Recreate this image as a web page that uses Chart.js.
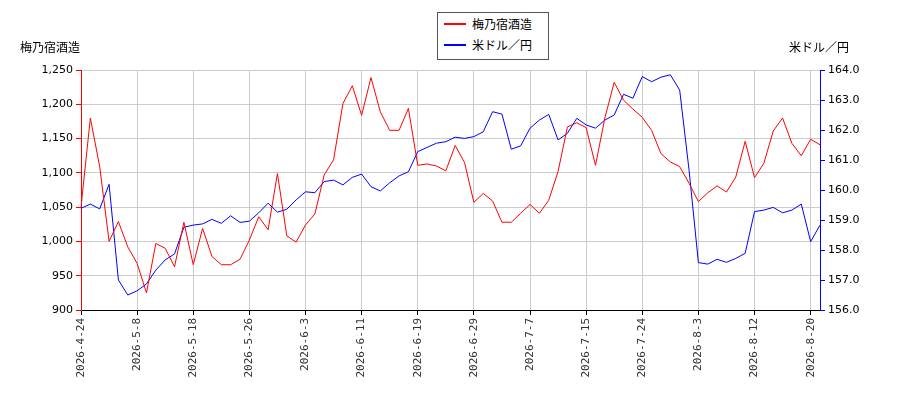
<!DOCTYPE html>
<html>
<head>
<meta charset="utf-8">
<script src="https://cdn.jsdelivr.net/npm/chart.js@4"></script>
<style>
  body { margin: 0; background: #fff; font-family: "Noto Sans CJK JP", sans-serif; }
  #wrap { position: relative; width: 900px; height: 400px; }
  .ttl { position: absolute; top: 38px; font-size: 12px; color: #000; }
  #legend { position: absolute; left: 437px; top: 12px; width: 110px; height: 46px; border: 1px solid #555; background: #fff; font-size: 12px; }
  #legend div { display: flex; align-items: center; height: 21px; padding-left: 6px; }
  #legend span { display: inline-block; width: 22px; height: 2px; margin-right: 6px; }
</style>
</head>
<body>
<div id="wrap">
  <canvas id="c" width="900" height="400"></canvas>
  <div class="ttl" style="left:20px">梅乃宿酒造</div>
  <div class="ttl" style="left:789px">米ドル／円</div>
  <div id="legend">
    <div><span style="background:#ff0000"></span>梅乃宿酒造</div>
    <div><span style="background:#0000ff"></span>米ドル／円</div>
  </div>
</div>
<script>
const dates = [
  '2026-4-24','2026-4-27','2026-4-28','2026-4-30','2026-5-1','2026-5-7','2026-5-8',
  '2026-5-11','2026-5-12','2026-5-13','2026-5-14','2026-5-15','2026-5-18',
  '2026-5-19','2026-5-20','2026-5-21','2026-5-22','2026-5-25','2026-5-26',
  '2026-5-27','2026-5-28','2026-5-29','2026-6-1','2026-6-2','2026-6-3',
  '2026-6-4','2026-6-5','2026-6-8','2026-6-9','2026-6-10','2026-6-11',
  '2026-6-12','2026-6-15','2026-6-16','2026-6-17','2026-6-18','2026-6-19',
  '2026-6-22','2026-6-23','2026-6-24','2026-6-25','2026-6-26','2026-6-29',
  '2026-6-30','2026-7-1','2026-7-2','2026-7-3','2026-7-6','2026-7-7',
  '2026-7-8','2026-7-9','2026-7-10','2026-7-13','2026-7-14','2026-7-15',
  '2026-7-16','2026-7-17','2026-7-21','2026-7-22','2026-7-23','2026-7-24',
  '2026-7-27','2026-7-28','2026-7-29','2026-7-30','2026-7-31','2026-8-3',
  '2026-8-4','2026-8-5','2026-8-6','2026-8-7','2026-8-10','2026-8-12',
  '2026-8-13','2026-8-14','2026-8-17','2026-8-18','2026-8-19','2026-8-20','2026-8-21'
];
const stockPrice = [
  1050,1180,1109,1000,1029,992,968,925,997,990,963,1028,966,1019,978,966,966,974,1002,1036,
  1017,1099,1008,999,1024,1040,1097,1119,1201,1227,1184,1239,1189,1162,1162,1194,1111,1113,1110,1103,
  1140,1115,1057,1070,1059,1028,1028,1041,1054,1041,1060,1102,1167,1173,1166,1111,1180,1232,1206,1193,
  1181,1162,1128,1116,1109,1085,1058,1071,1081,1072,1094,1146,1093,1114,1161,1180,1143,1125,1149,1141
];
const usdJpy = [
  159.39,159.53,159.37,160.19,157.0,156.5,156.64,156.87,157.33,157.67,157.87,158.76,158.83,158.87,159.02,158.89,159.14,158.92,158.96,159.24,
  159.56,159.26,159.36,159.67,159.94,159.91,160.28,160.33,160.17,160.42,160.53,160.11,159.97,160.24,160.47,160.61,161.28,161.42,161.56,161.61,
  161.76,161.72,161.78,161.94,162.61,162.53,161.36,161.47,162.06,162.33,162.52,161.67,161.89,162.39,162.17,162.06,162.33,162.5,163.19,163.06,
  163.78,163.61,163.76,163.84,163.33,160.67,157.58,157.53,157.69,157.59,157.72,157.89,159.28,159.33,159.42,159.24,159.33,159.53,158.28,158.83
];

new Chart(document.getElementById('c').getContext('2d'), {
  type: 'line',
  data: {
    labels: dates,
    datasets: [
      { label: '梅乃宿酒造', data: stockPrice, borderColor: '#ff0000', borderWidth: 1, pointRadius: 0, tension: 0, yAxisID: 'y' },
      { label: '米ドル／円', data: usdJpy, borderColor: '#0000ff', borderWidth: 1, pointRadius: 0, tension: 0, yAxisID: 'y1' }
    ]
  },
  options: {
    responsive: false,
    animation: false,
    layout: { padding: { top: 70 } },
    plugins: { legend: { display: false }, tooltip: { enabled: false } },
    scales: {
      x: {
        offset: false,
        grid: { color: '#cccccc', drawTicks: true, tickColor: '#000', tickLength: 5 },
        border: { color: '#000' },
        ticks: {
          autoSkip: false, maxRotation: 90, minRotation: 90, color: '#333',
          font: { family: 'DejaVu Sans Mono', size: 11 },
          callback: function (v, i) { return i % 6 === 0 ? dates[i] : null; }
        },
        afterFit: function (s) { s.height = 90; }
      },
      y: {
        position: 'left', min: 900, max: 1250,
        grid: { color: '#cccccc', tickColor: '#ff0000', tickLength: 5 },
        border: { color: '#ff0000' },
        ticks: { stepSize: 50, color: '#000', font: { family: 'DejaVu Sans', size: 11 } },
        afterFit: function (s) { s.width = 81; }
      },
      y1: {
        position: 'right', min: 156, max: 164,
        grid: { drawOnChartArea: false, tickColor: '#0000ff', tickLength: 5 },
        border: { color: '#0000ff' },
        ticks: { stepSize: 1, color: '#000', font: { family: 'DejaVu Sans', size: 11 },
          callback: function (v) { return v.toFixed(1); } },
        afterFit: function (s) { s.width = 80; }
      }
    }
  }
});
</script>
</body>
</html>
